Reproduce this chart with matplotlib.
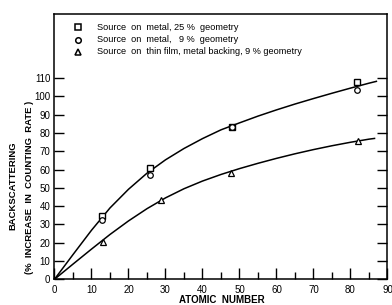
import matplotlib
matplotlib.use("Agg")
import matplotlib.pyplot as plt
from matplotlib.ticker import MultipleLocator

plt.rcParams['font.family'] = ['Liberation Sans', 'DejaVu Sans']

# measured points
z_sq = [12.8, 25.8, 48.1, 81.8]
v_sq = [34.7, 61.0, 83.5, 107.6]
z_ci = [12.9, 25.8, 48.1, 81.8]
v_ci = [32.6, 57.0, 83.0, 103.6]
z_tr = [13.0, 28.8, 47.8, 82.0]
v_tr = [20.5, 43.5, 58.0, 75.5]

# fitted curves
cz_up = [0, 5, 10, 15, 20, 25, 30, 35, 40, 45, 50, 55, 60, 65, 70, 75, 80, 85, 87]
cv_up = [0, 13.5, 26.8, 39.0, 49.2, 58.0, 65.3, 71.5, 76.9, 81.7, 85.5, 89.2,
         92.6, 95.8, 98.8, 101.7, 104.5, 107.2, 108.2]
cz_lo = [0, 5, 10, 15, 20, 25, 30, 35, 40, 45, 50, 55, 60, 65, 70, 75, 80, 85, 86.5]
cv_lo = [0, 8.3, 16.5, 24.5, 31.9, 38.6, 44.5, 49.5, 53.7, 57.3, 60.5, 63.4,
         66.1, 68.6, 70.9, 73.0, 74.9, 76.6, 77.0]

legend_labels = ["Source  on  metal, 25 %  geometry",
                 "Source  on  metal,   9 %  geometry",
                 "Source  on  thin film, metal backing, 9 % geometry"]

fig = plt.figure(figsize=(3.92, 3.05), dpi=100)
ax = fig.add_axes([0.139, 0.0843, 0.8495, 0.8697])
ax.set_xlim(0, 90)
ax.set_ylim(0, 145)

lw = 1.1
ax.plot(cz_up, cv_up, color='black', lw=lw)
ax.plot(cz_lo, cv_lo, color='black', lw=lw)
ax.plot(z_sq, v_sq, 's', ms=5, mfc='white', mec='black', mew=1.0, ls='none')
ax.plot(z_ci, v_ci, 'o', ms=4, mfc='white', mec='black', mew=0.9, ls='none')
ax.plot(z_tr, v_tr, '^', ms=4.5, mfc='white', mec='black', mew=0.9, ls='none')

# legend drawn as text
mk = ['s', 'o', '^']
msz = [5.0, 4.0, 4.5]
ly = [137.7, 131.0, 124.4]
for m, s, y, t in zip(mk, msz, ly, legend_labels):
    ax.plot([6.3], [y], m, ms=s, mfc='white', mec='black', mew=1.1)
    ax.text(11.4, y, t, fontsize=6.6, va='center', ha='left')

ax.set_xticks(range(0, 91, 10))
ax.xaxis.set_minor_locator(MultipleLocator(5))
ax.set_yticks(range(0, 111, 10))
ax.tick_params(axis='x', which='major', direction='in', length=8, width=1, labelsize=7, pad=4)
ax.tick_params(axis='x', which='minor', direction='in', length=5, width=1)
ax.tick_params(axis='y', which='major', direction='in', length=7, width=1, labelsize=7,
               right=True, pad=3)
for s in ax.spines.values():
    s.set_linewidth(1.1)

fig.text(0.566, 0.016, "ATOMIC  NUMBER", fontsize=7, fontweight='bold', ha='center', va='center')
fig.text(0.033, 0.39, "BACKSCATTERING", fontsize=6.8, fontweight='bold', rotation=90,
         ha='center', va='center')
fig.text(0.075, 0.385, "(%  INCREASE  IN  COUNTING  RATE )", fontsize=6.8, fontweight='bold',
         rotation=90, ha='center', va='center')

fig.savefig("out.png", dpi=100)
